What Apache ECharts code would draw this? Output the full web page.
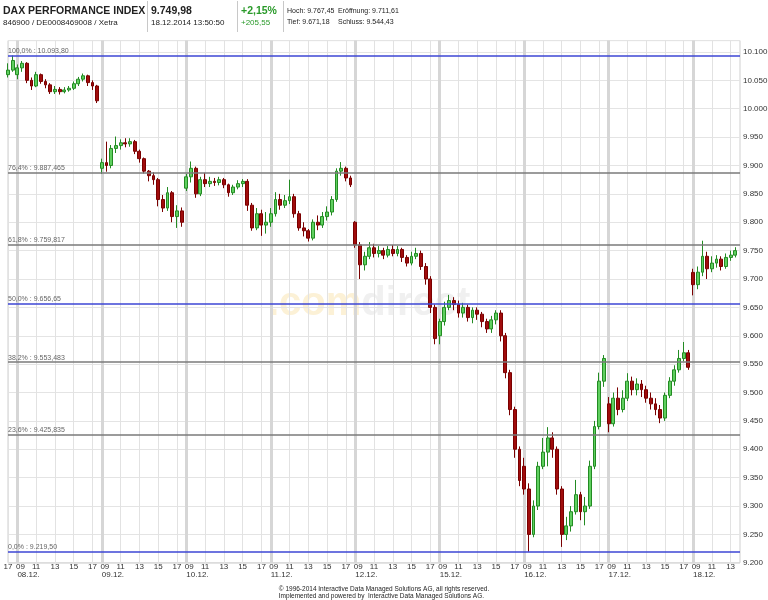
<!DOCTYPE html>
<html><head><meta charset="utf-8">
<script src="https://cdn.jsdelivr.net/npm/echarts@6/dist/echarts.min.js"></script>
<style>html,body{margin:0;padding:0;background:#fff}#c{width:768px;height:600px}</style>
</head><body><div id="c"></div>
<script>
// ---- categories ----
const days = ['05.12.','08.12.','09.12.','10.12.','11.12.','12.12.','15.12.','16.12.','17.12.','18.12.'];
const slotTimes = ['09:00','09:30','10:00','10:30','11:00','11:30','12:00','12:30','13:00','13:30','14:00','14:30','15:00','15:30','16:00','16:30','17:00','17:30'];
const firstDaySlots = ['17:00','17:30'];
const lastDaySlots = ['09:00','09:30','10:00','10:30','11:00','11:30','12:00','12:30','13:00','13:30','14:00'];
const hourTicks = ['09','11','13','15','17'];

// ---- OHLC per day: [open, close, low, high] per 30-min slot ----
const d0512 = [[10060,10068,10055,10080],[10068,10085,10065,10093.8]];
const d0812 = [[10060,10072,10052,10078],[10072,10080,10065,10084],[10080,10050,10045,10082],[10050,10040,10033,10055],[10040,10060,10038,10065],[10060,10048,10044,10062],[10048,10042,10036,10052],[10042,10030,10026,10045],[10030,10034,10026,10040],[10034,10030,10025,10038],[10030,10033,10027,10038],[10033,10036,10030,10040],[10036,10044,10033,10048],[10044,10052,10040,10056],[10052,10058,10048,10062],[10058,10046,10040,10060],[10046,10040,10033,10050],[10040,10014,10010,10042]];
const d0912 = [[9895,9905,9885,9912],[9905,9900,9889,9942],[9900,9930,9895,9936],[9930,9935,9922,9951],[9935,9940,9928,9946],[9940,9938,9932,9948],[9938,9942,9933,9948],[9942,9925,9920,9945],[9925,9912,9905,9928],[9912,9890,9886,9914],[9890,9882,9872,9892],[9882,9875,9866,9888],[9875,9840,9828,9878],[9840,9825,9818,9848],[9825,9852,9820,9862],[9852,9810,9800,9855],[9810,9820,9790,9830],[9820,9800,9792,9826]];
const d1012 = [[9860,9880,9855,9885],[9880,9895,9870,9907],[9895,9850,9843,9898],[9850,9875,9846,9880],[9875,9868,9862,9887],[9868,9872,9862,9880],[9872,9870,9864,9878],[9870,9875,9865,9880],[9875,9866,9860,9878],[9866,9852,9845,9868],[9852,9862,9848,9866],[9862,9868,9858,9874],[9868,9872,9862,9876],[9872,9830,9820,9876],[9830,9790,9785,9834],[9790,9815,9786,9825],[9815,9795,9776,9822],[9795,9800,9780,9818]];
const d1112 = [[9800,9815,9792,9825],[9815,9840,9810,9853],[9840,9830,9822,9850],[9830,9838,9825,9848],[9838,9845,9832,9875],[9845,9815,9808,9850],[9815,9790,9785,9820],[9790,9785,9775,9800],[9785,9772,9766,9788],[9772,9800,9768,9805],[9800,9795,9786,9812],[9795,9810,9790,9818],[9810,9818,9803,9828],[9818,9840,9812,9846],[9840,9890,9836,9895],[9890,9895,9882,9906],[9895,9878,9872,9898],[9878,9866,9862,9882]];
const d1212 = [[9800,9760,9755,9802],[9760,9725,9700,9765],[9725,9740,9715,9748],[9740,9755,9735,9765],[9755,9745,9738,9762],[9745,9750,9738,9758],[9750,9742,9735,9755],[9742,9752,9738,9758],[9752,9745,9740,9760],[9745,9752,9740,9758],[9752,9738,9730,9755],[9738,9728,9722,9742],[9728,9740,9724,9748],[9740,9745,9735,9755],[9745,9722,9716,9750],[9722,9700,9690,9728],[9700,9650,9640,9705],[9650,9595,9585,9655]];
const d1512 = [[9600,9625,9585,9630],[9625,9650,9618,9660],[9650,9662,9645,9672],[9662,9655,9645,9668],[9655,9640,9632,9662],[9640,9650,9632,9658],[9650,9632,9625,9655],[9632,9645,9622,9650],[9645,9638,9628,9650],[9638,9625,9615,9642],[9625,9612,9605,9630],[9612,9628,9605,9635],[9628,9640,9620,9645],[9640,9600,9590,9645],[9600,9535,9525,9605],[9535,9470,9460,9540],[9470,9400,9385,9475],[9400,9345,9335,9405]];
const d1612 = [[9370,9330,9320,9385],[9330,9250,9219.5,9340],[9250,9300,9245,9310],[9300,9370,9293,9378],[9370,9395,9365,9420],[9395,9420,9370,9439],[9420,9400,9385,9430],[9400,9330,9320,9405],[9330,9250,9228,9335],[9250,9265,9240,9281],[9265,9290,9255,9300],[9290,9320,9285,9346],[9320,9290,9275,9325],[9290,9300,9266,9316],[9300,9370,9295,9380],[9370,9440,9365,9450],[9440,9520,9435,9535],[9520,9560,9510,9566]];
const d1712 = [[9480,9445,9430,9492],[9445,9490,9440,9500],[9490,9470,9460,9509],[9470,9490,9465,9504],[9490,9520,9485,9534],[9520,9505,9495,9528],[9505,9515,9495,9525],[9515,9505,9492,9522],[9505,9490,9482,9512],[9490,9480,9470,9500],[9480,9470,9460,9490],[9470,9455,9446,9478],[9455,9495,9450,9500],[9495,9520,9490,9527],[9520,9540,9512,9548],[9540,9560,9535,9575],[9560,9570,9555,9589],[9570,9544.43,9540,9575]];
const d1812 = [[9711.61,9690,9671.18,9718],[9690,9712,9682,9722],[9712,9740,9705,9767.45],[9740,9718,9700,9748],[9718,9728,9712,9740],[9728,9735,9720,9742],[9735,9722,9715,9740],[9722,9738,9718,9745],[9738,9742,9732,9750],[9742,9749.98,9738,9756]];

// ---- Fibonacci levels ----
const fibLevels = [10093.8, 9887.465, 9759.817, 9656.65, 9553.483, 9425.835, 9219.5];
const fibLabels = ['100,0% : 10.093,80','76,4% : 9.887,465','61,8% : 9.759,817','50,0% : 9.656,65','38,2% : 9.553,483','23,6% : 9.425,835','0,0% : 9.219,50'];
const fibBlue = [true,false,false,true,false,false,true];

const dayData = [d0512,d0812,d0912,d1012,d1112,d1212,d1512,d1612,d1712,d1812];
const categories = [], ohlc = [];
days.forEach((d, i) => {
  const slots = i === 0 ? firstDaySlots : (i === days.length - 1 ? lastDaySlots : slotTimes);
  slots.forEach((t, k) => { categories.push(d + ' ' + t); ohlc.push(dayData[i][k] || '-'); });
});

const FONT = 'Liberation Sans, Arial, sans-serif';
function de(v){ const s = String(v % 1000).padStart(3,'0'); return Math.floor(v/1000) + '.' + s; }
const isHourTick = (idx, val) => { const t = val.split(' ')[1]; return t.endsWith(':00') && hourTicks.includes(t.slice(0,2)); };
const isThinTick = (idx, val) => { const t = val.split(' ')[1]; return t.endsWith(':00') && hourTicks.includes(t.slice(0,2)) && t !== '09:00'; };
const isDayStart = (idx, val) => val.split(' ')[1] === '09:00';

const chart = echarts.init(document.getElementById('c'), null, {renderer: 'canvas'});
const txt = (x, y, text, size, opts) => ({type:'text', left:x, top:y, silent:true,
  style:{text:text, fontSize:size, fontFamily:FONT, fill:(opts&&opts.fill)||'#222', fontWeight:(opts&&opts.bold)?'bold':'normal'}});
const vline = (x) => ({type:'line', silent:true, shape:{x1:x,y1:1,x2:x,y2:32}, style:{stroke:'#c8c8c8', lineWidth:1}});

chart.setOption({
  animation: false,
  backgroundColor: '#fff',
  grid: {left: 8, right: 28, top: 40.6, bottom: 37.2, containLabel: false, outerBoundsMode: 'none',
         show: true, borderColor: '#cfcfcf', borderWidth: 1},
  xAxis: [{
    type: 'category', data: categories, boundaryGap: false, position: 'bottom',
    axisLine: {show: false}, axisTick: {show: false},
    axisLabel: {interval: isHourTick, margin: 0, fontSize: 8, color: '#333', fontFamily: FONT,
      formatter: (v) => { const h = v.split(' ')[1].slice(0,2); return h === '09' ? '{s|09}' : h; },
      rich: {s: {padding: [0,0,0,6], fontSize: 8, color: '#333', fontFamily: FONT}}},
    splitLine: {show: true, interval: isThinTick, lineStyle: {color: '#e2e2e2', width: 1}}
  }, {
    type: 'category', data: categories, boundaryGap: false, position: 'bottom', offset: 8,
    axisLine: {show: false}, axisTick: {show: false},
    axisLabel: {interval: isDayStart, margin: 0, fontSize: 8, color: '#333', fontFamily: FONT, align: 'left',
      formatter: (v) => v.split(' ')[0]},
    splitLine: {show: true, interval: isDayStart, lineStyle: {color: '#d6d6d6', width: 3}}
  }],
  yAxis: {
    type: 'value', position: 'right', min: 9200, max: 10120, interval: 50, scale: true,
    axisLine: {show: false}, axisTick: {show: false},
    axisLabel: {margin: 3, fontSize: 8, color: '#333', fontFamily: FONT,
      formatter: (v) => (v % 50 === 0 ? de(v) : '')},
    splitLine: {show: true, lineStyle: {color: '#e4e4e4', width: 1}}
  },
  graphic: [
    {type:'text', left: 268, top: 284, z: 0, silent: true,
      style:{text:'{a|.com}{b|direct}', rich:{
        a:{fontSize:40, fontWeight:'bold', fontFamily:FONT, fill:'#fcf1d6'},
        b:{fontSize:40, fontWeight:'bold', fontFamily:FONT, fill:'#f0f0f0'}}}},
    txt(3, 6, 'DAX PERFORMANCE INDEX', 10.5, {bold:true}),
    txt(3, 19, '846900 / DE0008469008 / Xetra', 8),
    vline(147.5),
    txt(151, 6, '9.749,98', 10.5, {bold:true}),
    txt(151, 19, '18.12.2014 13:50:50', 8),
    vline(237.5),
    txt(241, 6, '+2,15%', 10.5, {bold:true, fill:'#2a9a2a'}),
    txt(241, 19, '+205,55', 8, {fill:'#2a9a2a'}),
    vline(283.5),
    txt(287, 8, 'Hoch: 9.767,45', 7),
    txt(338, 8, 'Eröffnung: 9.711,61', 7),
    txt(287, 19, 'Tief: 9.671,18', 7),
    txt(338, 19, 'Schluss: 9.544,43', 7),
    {type:'text', left: 'center', top: 585, silent:true,
      style:{text:'© 1996-2014 Interactive Data Managed Solutions AG, all rights reserved.\nImplemented and powered by  Interactive Data Managed Solutions AG.',
        fontSize: 6.5, lineHeight: 7.5, fontFamily: FONT, fill: '#222', align: 'center'}}
  ],
  series: [{
    type: 'candlestick', data: ohlc, xAxisIndex: 0, barWidth: 3.4,
    itemStyle: {color: '#5fcf5f', borderColor: '#238b23', color0: '#a00c0c', borderColor0: '#7a0000', borderWidth: 1},
    markLine: {
      symbol: 'none', silent: true, animation: false,
      label: {position: 'insideStartTop', fontSize: 7, color: '#666', fontFamily: FONT, distance: [0, 1]},
      data: fibLevels.map((v, i) => ({yAxis: v,
        lineStyle: {color: fibBlue[i] ? '#3d46d4' : '#7a7a7a', width: 1.5, type: 'solid'},
        label: {formatter: fibLabels[i]}}))
    }
  }]
});
</script></body></html>
